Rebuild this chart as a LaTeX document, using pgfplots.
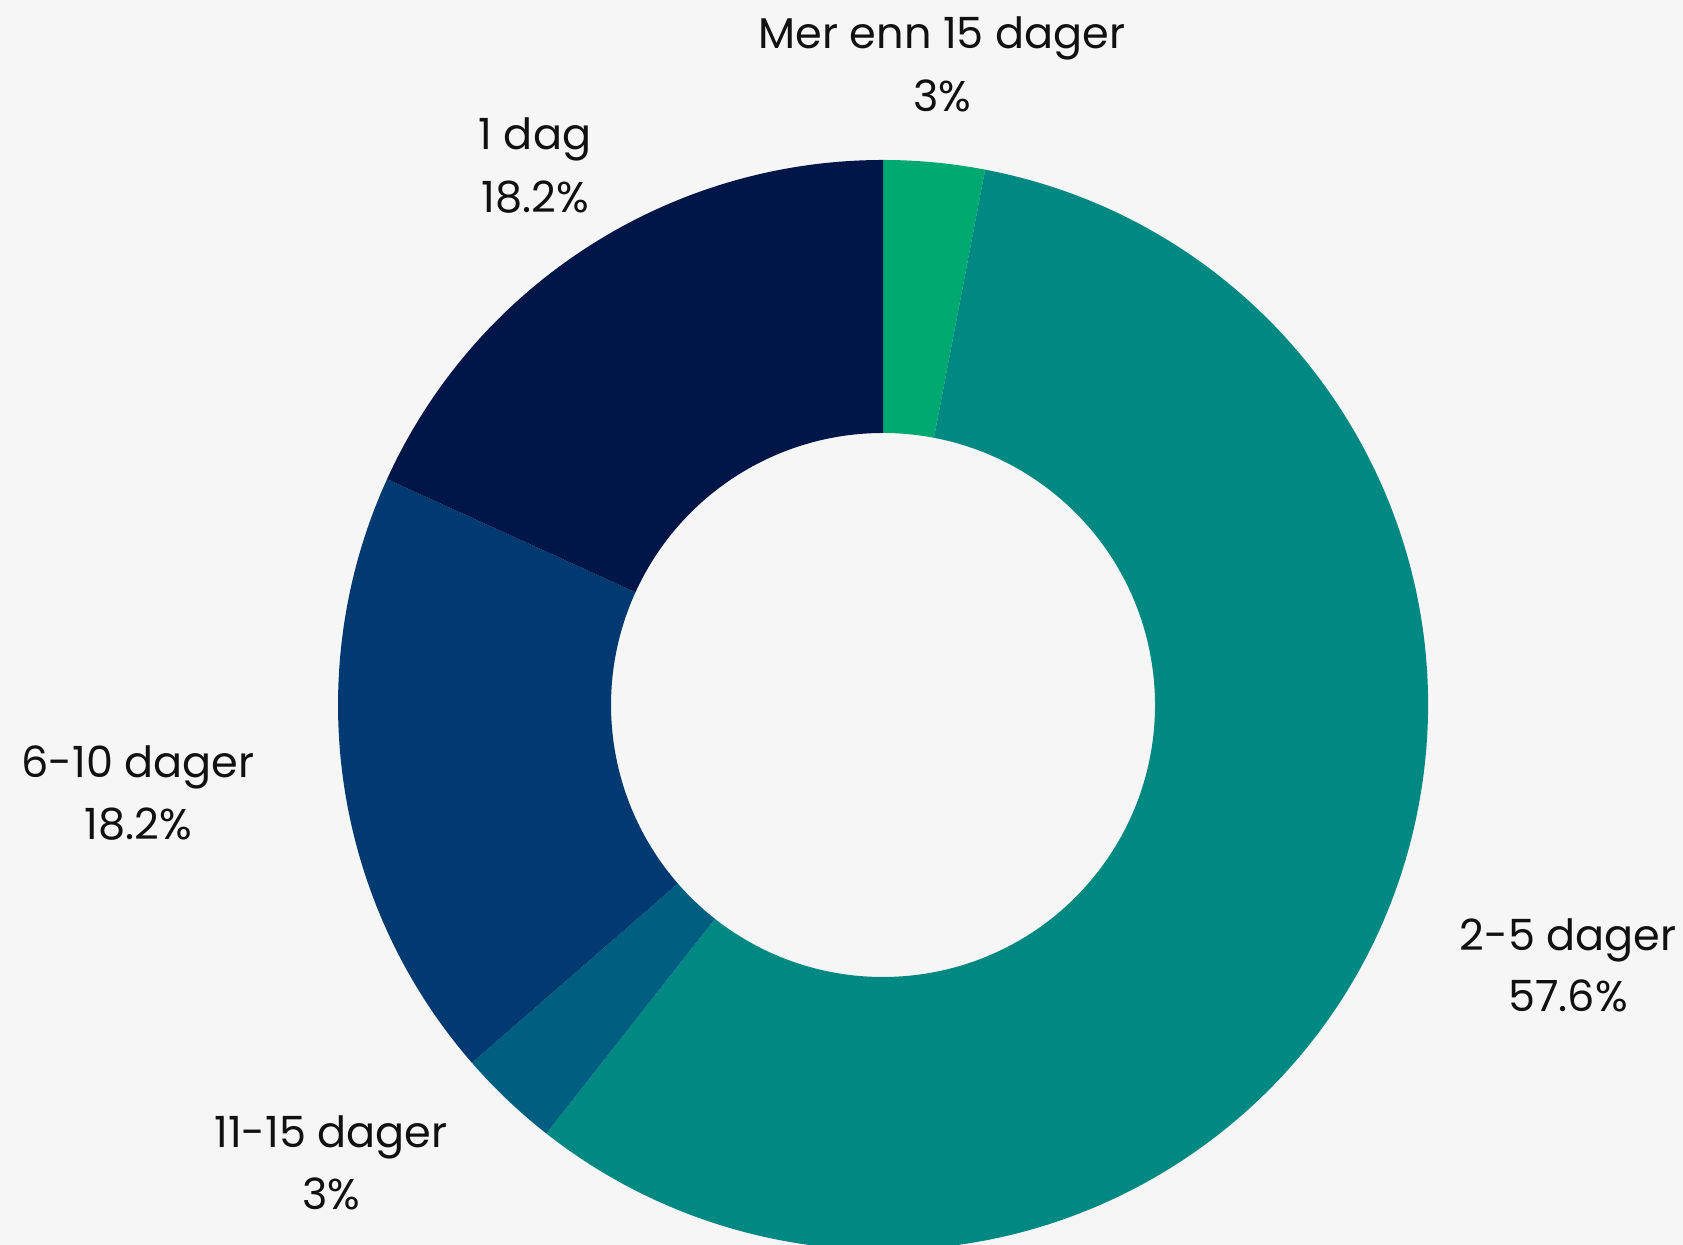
\documentclass[border=0pt]{standalone}
\usepackage{fontspec}
\setmainfont{Poppins}
\usepackage{pgfplots}
\pgfplotsset{compat=1.18}
\definecolor{bg}{HTML}{F6F6F6}
\definecolor{cA}{HTML}{00A96F}
\definecolor{cB}{HTML}{008882}
\definecolor{cC}{HTML}{005F80}
\definecolor{cD}{HTML}{003A70}
\definecolor{cE}{HTML}{001648}
\definecolor{txt}{HTML}{111111}
% values (percent), clockwise from top
\def\vA{3}    % Mer enn 15 dager
\def\vB{57.6} % 2-5 dager
\def\vC{3}    % 11-15 dager
\def\vD{18.2} % 6-10 dager
\def\vE{18.2} % 1 dag
\newcommand\ringsector[3]{%
  \fill[#3] (axis cs:{883+545*cos(#1)},{540+545*sin(#1)})
    arc[start angle=#1, end angle=#2, radius=163.5pt]
    -- (axis cs:{883+272*cos(#2)},{540+272*sin(#2)})
    arc[start angle=#2, end angle=#1, radius=81.6pt] -- cycle;}
\newcommand\lab[5]{%
  \node[anchor=base, font=\fontsize{12.9pt}{15pt}\selectfont, text=txt, inner sep=0pt] at (axis cs:#1,{1245-#2}) {#4};
  \node[anchor=base, font=\fontsize{12.9pt}{15pt}\selectfont, text=txt, inner sep=0pt] at (axis cs:#1,{1245-#3}) {#5};}
\begin{document}
\begin{tikzpicture}
\useasboundingbox (0,0) rectangle (504.9pt,373.5pt);
\fill[bg] (0,0) rectangle (504.9pt,373.5pt);
\pgfmathsetmacro\aA{90}
\pgfmathsetmacro\aB{\aA-3.6*\vA}
\pgfmathsetmacro\aC{\aB-3.6*\vB}
\pgfmathsetmacro\aD{\aC-3.6*\vC}
\pgfmathsetmacro\aE{\aD-3.6*\vD}
\pgfmathsetmacro\aF{\aE-3.6*\vE}
\begin{axis}[hide axis, scale only axis, width=504.9pt, height=373.5pt,
  xmin=0, xmax=1683, ymin=0, ymax=1245, clip=true, anchor=south west, at={(0,0)}]
\ringsector{\aA}{\aB}{cA}
\ringsector{\aB}{\aC}{cB}
\ringsector{\aC}{\aD}{cC}
\ringsector{\aD}{\aE}{cD}
\ringsector{\aE}{\aF}{cE}
\lab{942}{49}{112}{Mer enn 15 dager}{3\%}
\lab{535}{150}{213}{1 dag}{18.2\%}
\lab{138}{778}{840}{6-10 dager}{18.2\%}
\lab{1568}{951}{1012}{2-5 dager}{57.6\%}
\lab{331}{1148}{1210}{11-15 dager}{3\%}
\end{axis}
\end{tikzpicture}
\end{document}
